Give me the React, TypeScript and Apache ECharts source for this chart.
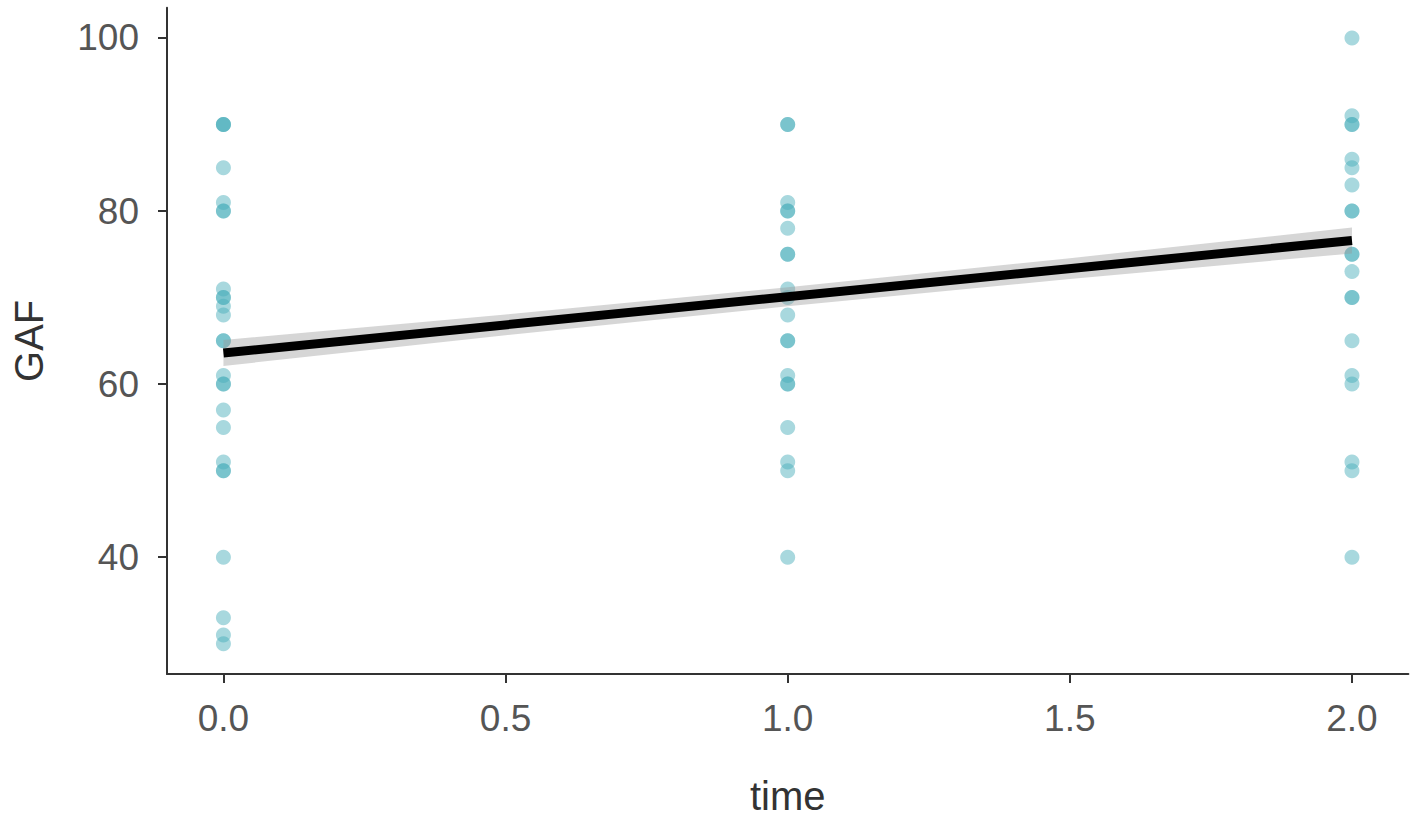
import React, { useEffect, useRef } from "react";
import * as echarts from "echarts";

// GAF observations at each time point
const time0GAF = [90, 90, 90, 85, 81, 80, 80, 71, 70, 70, 69, 68, 65, 65, 61, 60, 60, 57, 55, 51, 50, 50, 40, 33, 31, 30];
const time1GAF = [90, 90, 81, 80, 80, 78, 75, 75, 71, 70, 68, 65, 65, 61, 60, 60, 55, 51, 50, 40];
const time2GAF = [100, 91, 90, 90, 86, 85, 83, 80, 80, 75, 75, 73, 70, 70, 65, 61, 60, 51, 50, 40];
const timePoints = [0, 1, 2];

// fitted linear trend and its confidence band
const fitX = [0, 2];
const fitY = [63.6, 76.6];
const bandX = [0, 0.5, 1, 1.5, 2];
const bandLower = [62.1, 65.65, 69.0, 72.15, 75.1];
const bandUpper = [65.1, 68.05, 71.2, 74.55, 78.1];

// ticks
const xTicks = [0, 0.5, 1, 1.5, 2];
const yTicks = [40, 60, 80, 100];

export default function App() {
  const ref = useRef<HTMLDivElement>(null);
  useEffect(() => {
    if (!ref.current) return;
    const chart = echarts.init(ref.current, null, { renderer: "svg" });
    const groups = [time0GAF, time1GAF, time2GAF];
    const scatterData: number[][] = [];
    groups.forEach((vals, gi) => vals.forEach((v) => scatterData.push([timePoints[gi], v])));
    const font = "'Liberation Sans', Arial, sans-serif";
    const labelColor = "#555555";
    chart.setOption({
      animation: false,
      backgroundColor: "#ffffff",
      grid: { left: 167, top: 7.7, right: 8.6, bottom: 150, containLabel: false, outerBoundsMode: "none" },
      xAxis: {
        type: "value",
        min: -0.1,
        max: 2.1,
        name: "time",
        nameLocation: "middle",
        nameGap: 102,
        nameTextStyle: { fontFamily: font, fontSize: 40, color: "#333333" },
        axisLine: { show: true, onZero: false, lineStyle: { color: "#333333", width: 2 } },
        axisTick: { show: true, length: 9, lineStyle: { color: "#333333", width: 2 }, customValues: xTicks },
        axisLabel: {
          fontFamily: font,
          fontSize: 37,
          color: labelColor,
          margin: 26,
          customValues: xTicks,
          formatter: (v: number) => v.toFixed(1),
        },
        splitLine: { show: false },
      },
      yAxis: {
        type: "value",
        min: 26.5,
        max: 103.5,
        name: "GAF",
        nameLocation: "middle",
        nameGap: 118,
        nameTextStyle: { fontFamily: font, fontSize: 40, color: "#333333" },
        axisLine: { show: true, onZero: false, lineStyle: { color: "#333333", width: 2 } },
        axisTick: { show: true, length: 9, lineStyle: { color: "#333333", width: 2 }, customValues: yTicks },
        axisLabel: {
          fontFamily: font,
          fontSize: 37,
          color: labelColor,
          margin: 28,
          customValues: yTicks,
        },
        splitLine: { show: false },
      },
      series: [
        {
          type: "scatter",
          data: scatterData,
          symbol: "circle",
          symbolSize: 15,
          itemStyle: { color: "#4aaeba", opacity: 0.48 },
          z: 1,
        },
        {
          type: "custom",
          data: [[1, 70]],
          z: 2,
          renderItem: (_params: any, api: any) => {
            const pts: number[][] = [];
            bandX.forEach((x, i) => pts.push(api.coord([x, bandUpper[i]])));
            for (let i = bandX.length - 1; i >= 0; i--) pts.push(api.coord([bandX[i], bandLower[i]]));
            return {
              type: "polygon",
              shape: { points: pts },
              style: { fill: "#999999", opacity: 0.4 },
            };
          },
        },
        {
          type: "line",
          data: fitX.map((x, i) => [x, fitY[i]]),
          showSymbol: false,
          symbol: "none",
          lineStyle: { color: "#000000", width: 9 },
          z: 3,
        },
      ],
    });
    return () => chart.dispose();
  }, []);
  return <div ref={ref} style={{ position: "absolute", left: 0, top: 0, width: 1417, height: 824 }} />;
}
